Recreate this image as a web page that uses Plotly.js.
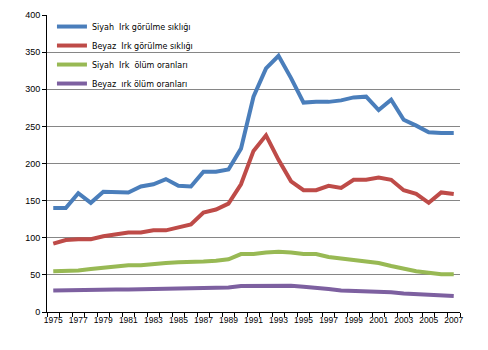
<!DOCTYPE html>
<html><head><meta charset="utf-8">
<script src="https://cdn.plot.ly/plotly-3.0.1.min.js"></script>
<style>html,body{margin:0;padding:0;background:#fff}#c{width:488px;height:350px}</style>
</head><body><div id="c"></div>
<script>
const years = [1975,1976,1977,1978,1979,1980,1981,1982,1983,1984,1985,1986,1987,1988,1989,1990,1991,1992,1993,1994,1995,1996,1997,1998,1999,2000,2001,2002,2003,2004,2005,2006,2007];
const siyahGorulme = [140,140,160,147,162,161,161,169,172,179,170,169,189,189,192,220,290,328,345,315,282,283,283,285,289,290,272,286,259,251,242,241,241];
const beyazGorulme = [92,97,98,98,102,105,107,107,110,110,114,118,134,138,146,172,217,238,205,176,164,164,170,167,178,178,181,178,164,159,147,161,159];
const siyahOlum = [55,55,56,58,60,62,63,63,65,66,67,67,68,69,71,78,78,80,81,80,78,78,74,72,70,68,66,62,58,55,53,51,51];
const beyazOlum = [29,29.5,29.5,30,30,30.3,30.3,30.5,30.5,31,31,31.3,31.7,32,33,35,35.3,35.3,35.5,35.3,34,33,31,29,28.5,27.5,27,26.5,25,24,23,22,21.5];
const names = ["Siyah\u00a0 Irk görülme sıklığı","Beyaz\u00a0 Irk görülme sıklığı","Siyah\u00a0 Irk\u00a0 ölüm oranları","Beyaz\u00a0 ırk ölüm oranları"];
const series = [siyahGorulme, beyazGorulme, siyahOlum, beyazOlum];
const colors = ["#4A7EBB","#BE4B48","#98B954","#7D60A0"];
const xTickVals = years.filter((y,i)=>i%2===0);

const data = series.map((s,i)=>({
  x: years, y: s, type:'scatter', mode:'lines', name: names[i],
  legendgroup: 'g'+i,
  line:{color:colors[i], width:4}
}));

const layout = {
  width:488, height:350,
  margin:{l:47, r:28, t:15, b:38},
  paper_bgcolor:'#fff', plot_bgcolor:'#fff',
  font:{family:'"Liberation Sans", Arial, sans-serif', size:9, color:'#000'},
  showlegend:true,
  legend:{x:0.012, y:1.01, xanchor:'left', yanchor:'top', bgcolor:'rgba(0,0,0,0)',
    font:{size:8, family:'"DejaVu Sans", sans-serif'}, tracegroupgap:4.5, traceorder:'normal'},
  xaxis:{
    range:[1974.5, 2007.5], tickmode:'array', tickvals:xTickVals, ticktext:xTickVals.map(String),
    ticks:'', showgrid:false, zeroline:false, showline:true, linecolor:'#000', linewidth:1,
    tickfont:{size:8.5}, fixedrange:true,
    minor:{ticks:'outside', tickmode:'linear', tick0:1974.5, dtick:1, ticklen:4, tickcolor:'#000', showgrid:false}
  },
  yaxis:{
    range:[0,400], dtick:50, tick0:0, ticks:'outside', ticklen:4, tickcolor:'#000',
    showgrid:true, gridcolor:'#868686', gridwidth:1, zeroline:false,
    showline:true, linecolor:'#000', linewidth:1, tickfont:{size:9}
  }
};
Plotly.newPlot('c', data, layout, {staticPlot:true});
</script></body></html>
